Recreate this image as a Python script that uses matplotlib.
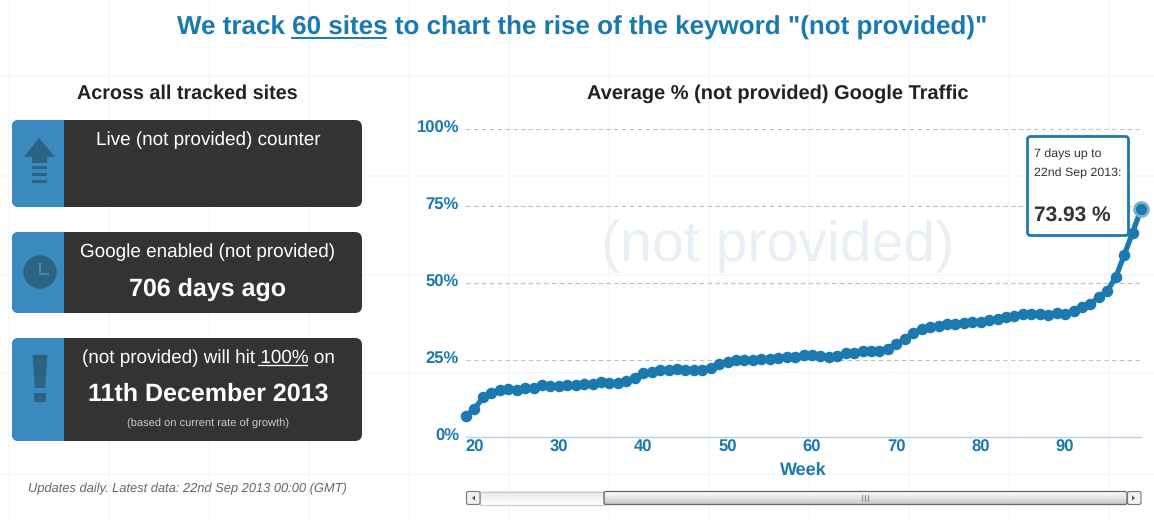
import numpy as np
import matplotlib
matplotlib.use('Agg')
import matplotlib.pyplot as plt
from matplotlib.patches import FancyBboxPatch, Rectangle, Polygon, Circle
from matplotlib.transforms import ScaledTranslation

plt.rcParams['font.family'] = ['Liberation Sans', 'DejaVu Sans']
plt.rcParams['text.hinting'] = 'no_hinting'

# datos
weeks = list(range(19, 100))
pct = [6.7, 8.9, 12.7, 14.2, 15.1, 15.3, 15.1, 15.7, 15.7, 16.7,
       16.5, 16.4, 16.7, 16.7, 17.1, 17.2, 17.6, 17.3, 17.5, 18.0,
       19.0, 20.6, 21.0, 21.5, 21.6, 21.9, 21.6, 21.6, 21.6, 22.3,
       23.5, 24.2, 24.8, 25.0, 25.0, 25.1, 25.2, 25.4, 25.8, 25.8,
       26.5, 26.5, 26.2, 26.0, 26.2, 27.1, 27.3, 27.9, 27.7, 27.9,
       28.6, 30.0, 31.7, 33.6, 35.0, 35.6, 36.0, 36.5, 36.7, 36.9,
       37.3, 37.3, 37.9, 38.3, 38.8, 39.2, 39.7, 39.9, 39.9, 39.6,
       40.1, 39.8, 40.8, 42.2, 43.1, 45.3, 47.3, 51.8, 58.9, 66.3, 73.93]
xticks = [20, 30, 40, 50, 60, 70, 80, 90]
yticks = [0, 25, 50, 75, 100]
ylabels = ['0%', '25%', '50%', '75%', '100%']

W, H = 1154, 520
BLUE = '#1a7ab0'
DARK = '#333333'
SIDE = '#3a8abf'
ICON = '#2c6385'

fig = plt.figure(figsize=(W / 100, H / 100), dpi=100, facecolor='white')


def pixel_axes(z):
    a = fig.add_axes([0, 0, 1, 1], zorder=z)
    a.set_xlim(0, W)
    a.set_ylim(H, 0)
    a.axis('off')
    a.patch.set_alpha(0)
    return a


bg = pixel_axes(0)
top = pixel_axes(2)

# cuadricula de fondo de la pagina
for x in range(9, W, 100):
    bg.plot([x, x], [0, H], color='#f5f9fd', lw=1.4, zorder=0)
for y in [76, 176, 275, 373, 474]:
    bg.plot([0, W], [y, y], color='#f5f9fd', lw=1.4, zorder=0)

# titulos
bg.text(582.5, 28, 'We track 60 sites to chart the rise of the keyword "(not provided)"',
        color=BLUE, fontsize=18.75, fontweight='bold', ha='center', va='center')
bg.plot([292, 386], [38, 38], color=BLUE, lw=1.4)
bg.text(187.5, 94, 'Across all tracked sites', color='#222222', fontsize=14.2,
        fontweight='bold', ha='center', va='center')
bg.text(778, 94, 'Average % (not provided) Google Traffic', color='#222222', fontsize=14.4,
        fontweight='bold', ha='center', va='center')


# paneles oscuros con franja azul
def panel(y0, y1):
    box = FancyBboxPatch((12, y0), 350, y1 - y0, boxstyle='round,pad=0,rounding_size=7',
                         fc=DARK, ec='none')
    bg.add_patch(box)
    side = Rectangle((12, y0), 52, y1 - y0, fc=SIDE, ec='none')
    bg.add_patch(side)
    side.set_clip_path(box)


panel(120, 207)
panel(232, 313)
panel(338, 441)

# iconos
bg.add_patch(Polygon([[39, 138], [55, 157], [47, 157], [47, 163], [32, 163], [32, 157], [24, 157]],
                     fc=ICON, ec='none'))
for y in [166, 173, 180]:
    bg.add_patch(Rectangle((32, y), 15, 3, fc=ICON, ec='none'))
bg.add_patch(Circle((40, 272), 16.7, fc=ICON, ec='none'))
bg.add_patch(Rectangle((38.5, 263), 2.5, 12, fc=SIDE, ec='none'))
bg.add_patch(Rectangle((38.5, 272.5), 10.5, 2.5, fc=SIDE, ec='none'))
bg.add_patch(Polygon([[32.5, 355], [47.5, 355], [45, 388], [35, 388]], fc=ICON, ec='none'))
bg.add_patch(Rectangle((34, 393), 12, 9, fc=ICON, ec='none'))

# textos de los paneles
bg.text(208, 140, 'Live (not provided) counter', color='white', fontsize=13.55, ha='center', va='center')
bg.text(208, 252, 'Google enabled (not provided)', color='white', fontsize=13.55, ha='center', va='center')
bg.text(208, 289.5, '706 days ago', color='white', fontsize=18, fontweight='bold', ha='center', va='center')
bg.text(208, 358, '(not provided) will hit 100% on', color='white', fontsize=13.55, ha='center', va='center')
bg.plot([258, 307], [364.5, 364.5], color='white', lw=0.9)
bg.text(208, 394.5, '11th December 2013', color='white', fontsize=18, fontweight='bold', ha='center', va='center')
bg.text(208, 423.5, '(based on current rate of growth)', color='#cccccc', fontsize=8, ha='center', va='center')
bg.text(187.5, 488.5, 'Updates daily. Latest data: 22nd Sep 2013 00:00 (GMT)', color='#666666',
        fontsize=9.3, style='italic', ha='center', va='center')

# marca de agua
bg.text(777.5, 246, '(not provided)', color='#e8eff5', fontsize=41.2, ha='center', va='center')

# grafico principal
ax = fig.add_axes([466 / W, 1 - 436.5 / H, (1141 - 466) / W, (436.5 - 129) / H], zorder=1)
ax.patch.set_alpha(0)
ax.set_xlim(19, 99)
ax.set_ylim(0, 100)
for v in yticks[1:]:
    ax.axhline(v, color='#c0c0c0', lw=0.8, ls=(0, (4, 3)), zorder=1)
ax.plot(weeks[:-1], pct[:-1], color=BLUE, lw=3.8, marker='o', ms=8.3, mew=0, clip_on=False, zorder=3)
ax.plot(weeks[-2:], pct[-2:], color=BLUE, lw=3.8, clip_on=False, zorder=3)
ax.plot(weeks[-1], pct[-1], marker='o', ms=12, color='#7fb0cc', mew=0, clip_on=False, zorder=4)
ax.plot(weeks[-1], pct[-1], marker='o', ms=8, color=BLUE, mew=0, clip_on=False, zorder=5)
ax.set_xticks(xticks)
ax.set_yticks(yticks)
ax.set_yticklabels(ylabels)
for s in ['top', 'right', 'left']:
    ax.spines[s].set_visible(False)
ax.spines['bottom'].set_color('#b8cfe4')
ax.spines['bottom'].set_linewidth(1)
ax.tick_params(length=0)
ax.tick_params(axis='x', pad=2.5, labelsize=12, labelcolor=BLUE)
ax.tick_params(axis='y', pad=5, labelsize=12, labelcolor=BLUE)
for t in ax.get_xticklabels() + ax.get_yticklabels():
    t.set_fontweight('bold')
# las etiquetas del eje y van unos pixeles por encima de la linea
for t in ax.get_yticklabels():
    t.set_transform(t.get_transform() + ScaledTranslation(0, 2 / 100, fig.dpi_scale_trans))
ax.set_xlabel('Week', color=BLUE, fontsize=13, fontweight='bold', labelpad=4.5)

# recuadro del tooltip
top.add_patch(FancyBboxPatch((1027.5, 136.5), 101, 99, boxstyle='round,pad=0,rounding_size=3',
                             fc='white', ec=BLUE, lw=2))
top.text(1034, 154, '7 days up to', color='#333333', fontsize=8.9, va='center')
top.text(1034, 173.5, '22nd Sep 2013:', color='#333333', fontsize=8.9, va='center')
top.text(1034, 215.5, '73.93 %', color='#333333', fontsize=15, fontweight='bold', va='center')

# barra de desplazamiento
grad = np.linspace(0, 1, 16).reshape(-1, 1)
top.imshow(grad, extent=[480, 604, 505, 491], cmap='gray', vmin=-10, vmax=1, aspect='auto')
top.imshow(grad[::-1], extent=[604, 1127, 505, 491], cmap='gray', vmin=-3.5, vmax=1, aspect='auto')
top.set_xlim(0, W)
top.set_ylim(H, 0)
top.add_patch(Rectangle((480, 491.5), 124, 13, fc='none', ec='#c8c8c8', lw=0.8))
top.add_patch(FancyBboxPatch((604, 491.5), 523, 13, boxstyle='round,pad=0,rounding_size=2',
                             fc='none', ec='#666666', lw=0.9))
for x0, tri in [(466, [[475, 495.5], [475, 500.5], [472, 498]]),
                (1127, [[1132, 495.5], [1132, 500.5], [1135, 498]])]:
    top.add_patch(FancyBboxPatch((x0 + 0.5, 491.5), 13.5, 13, boxstyle='round,pad=0,rounding_size=2',
                                 fc='#f0f0f0', ec='#777777', lw=0.8))
    top.add_patch(Polygon(tri, fc='#555555', ec='none'))
for x in [862, 865, 868]:
    top.plot([x, x], [495, 501], color='#999999', lw=0.9)

fig.savefig('out.png', dpi=100)
